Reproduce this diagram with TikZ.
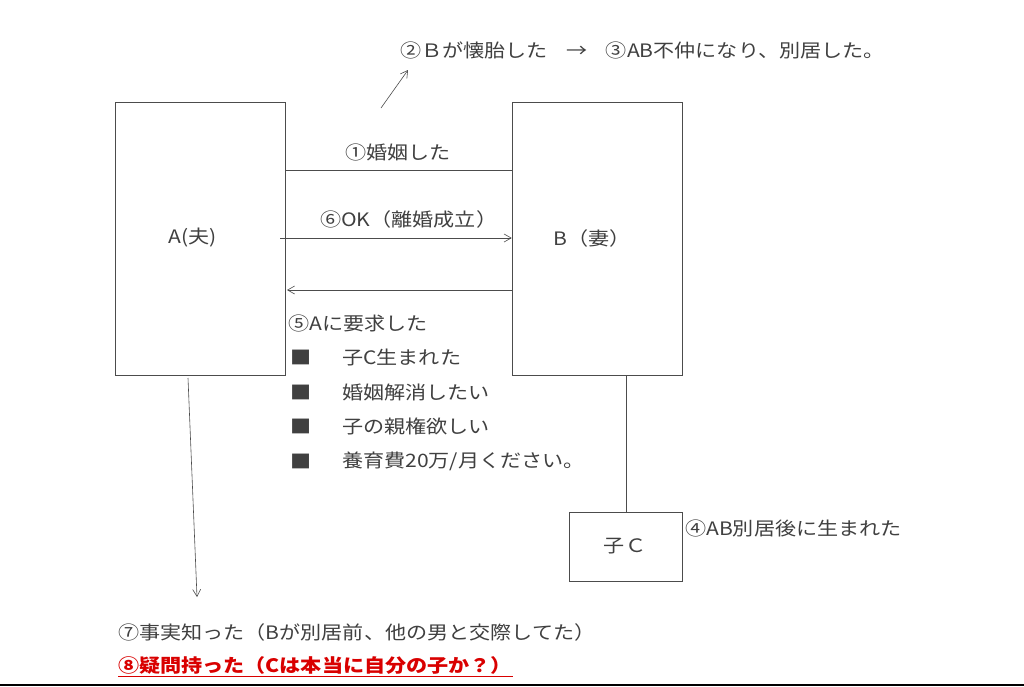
\documentclass[tikz,border=0pt]{standalone}
\usepackage{fontspec}
\setmainfont{Noto Sans CJK JP}[FakeStretch=1.14]
\usetikzlibrary{arrows.meta}
\begin{document}
\begin{tikzpicture}[x=1pt,y=-1pt,
  lbl/.style={anchor=west,inner sep=0pt,font=\fontsize{18.5}{18.5}\selectfont,text=black!75},
  box/.style={draw=black!70,line width=0.6pt},
  con/.style={draw=black!70,line width=0.6pt},
  arr/.style={con,-{Straight Barb[length=7pt,width=8pt]}}]
\useasboundingbox (0,0) rectangle (1024,686);
\fill[white] (0,0) rectangle (1024,686);
\node[box,minimum width=170pt,minimum height=273pt,inner sep=0pt] (A) at (200,238.5) {};
\node[lbl,anchor=center] (At) at (193,238) {A(夫)};
\node[box,minimum width=170pt,minimum height=273pt,inner sep=0pt] (B) at (597,238.5) {};
\node[lbl,anchor=center] (Bt) at (592,238) {B（妻）};
\node[box,minimum width=113pt,minimum height=69pt,inner sep=0pt] (C) at (625.5,546.5) {};
\node[lbl,anchor=center] (Ct) at (625,546) {子Ｃ};
\draw[con] (B.south -| 626,0) -- (C.north -| 626,0);
\draw[con] (285,170) coordinate (m1) -- (512,170) coordinate (m2);
\node[lbl] (l1) at (345,152) {①婚姻した};
\coordinate (u1) at (381,108);
\node[lbl] (l2) at (400,50) {②Ｂが懐胎した\quad →\quad ③AB不仲になり、別居した。};
\draw[arr] (u1) -- (408,70);
\coordinate (s6) at (280,238);
\draw[arr] (s6) -- (B.west |- 0,238);
\node[lbl] (l6) at (320,219) {⑥OK（離婚成立）};
\coordinate (s5) at (287,290);
\draw[arr] (B.west |- 0,290) -- (s5);
\node[lbl] (l5) at (288,323) {⑤Aに要求した};
\foreach \y/\t in {357/{子C生まれた},392/{婚姻解消したい},426/{子の親権欲しい},461/{養育費20万/月ください。}}{
  \node[lbl] at (290,\y) {■};
  \node[lbl] at (342,\y) {\t};
}
\node[lbl] (l4) at (685,528) {④AB別居後に生まれた};
\coordinate (d1) at (197,597);
\draw[arr] (188,378) -- (d1);
\node[lbl] (l7) at (118,632) {⑦事実知った（Bが別居前、他の男と交際してた）};
\node[lbl,text=red!85!black,font=\fontsize{18.5}{18.5}\selectfont\bfseries] (l8) at (118,665) {⑧疑問持った（Cは本当に自分の子か？）};
\draw[red!85!black,line width=0.8pt] (118,676) -- (513,676);
\draw[black,line width=2pt] (0,685) -- (1024,685);
\end{tikzpicture}
\end{document}
